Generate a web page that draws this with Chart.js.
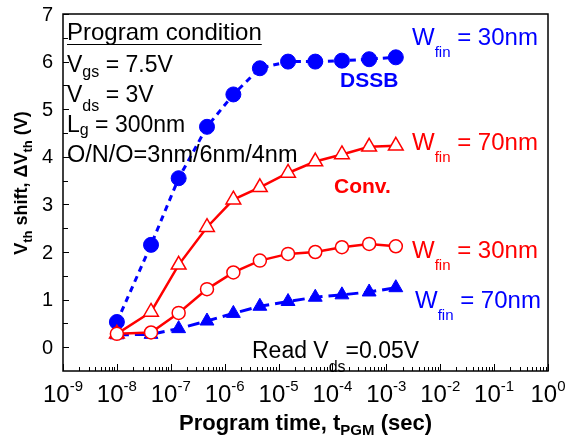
<!DOCTYPE html>
<html lang="en">
<head>
    <meta charset="UTF-8">
    <script src="https://cdn.jsdelivr.net/npm/chart.js"></script>
    <style>
        body { margin: 0; padding: 0; background: #fff; }
        #wrap { width: 565px; height: 436px; }
    </style>
</head>
<body>
    <div id="wrap"><canvas id="vth" width="565" height="436"></canvas></div>
    <script>
        // program time (sec) and Vth shift (V)
        const tPgm    = [1e-8, 4.3e-8, 1.4e-7, 4.7e-7, 1.45e-6, 4.5e-6, 1.5e-5, 4.8e-5, 1.5e-4, 4.8e-4, 1.5e-3];
        const dssb30  = [0.53, 2.15, 3.55, 4.63, 5.31, 5.86, 6.0, 6.0, 6.02, 6.05, 6.09];
        const dssb70  = [0.26, 0.27, 0.39, 0.55, 0.71, 0.86, 0.96, 1.05, 1.10, 1.16, 1.25];
        const conv70  = [0.28, 0.74, 1.73, 2.52, 3.10, 3.36, 3.66, 3.90, 4.05, 4.21, 4.23];
        const conv30  = [0.28, 0.31, 0.72, 1.22, 1.57, 1.82, 1.96, 2.00, 2.10, 2.17, 2.12];
        const xExps   = [-9, -8, -7, -6, -5, -4, -3, -2, -1, 0];
        const yLabels = [0, 1, 2, 3, 4, 5, 6, 7];

        const FONT = '"Liberation Sans", Arial, sans-serif';
        const RED = '#ff0000';
        const BLUE = '#0000ff';

        const pts = arr => arr.map((v, i) => ({ x: tPgm[i], y: v }));

        // draws text pieces: [text, size, dy] one after another
        function rich(ctx, x, y, parts, color, bold, align) {
            const w = parts.reduce((s, p) => {
                ctx.font = (bold ? 'bold ' : '') + p[1] + 'px ' + FONT;
                return s + ctx.measureText(p[0]).width;
            }, 0);
            let cx = align === 'center' ? x - w / 2 : x;
            ctx.fillStyle = color;
            ctx.textAlign = 'left';
            ctx.textBaseline = 'alphabetic';
            parts.forEach(p => {
                ctx.font = (bold ? 'bold ' : '') + p[1] + 'px ' + FONT;
                ctx.fillText(p[0], cx, y + (p[2] || 0));
                cx += ctx.measureText(p[0]).width;
            });
            return w;
        }

        const deco = {
            id: 'deco',
            afterDraw(chart) {
                const { ctx, chartArea: a, scales: { x, y } } = chart;
                ctx.save();
                ctx.strokeStyle = '#000';
                ctx.lineWidth = 1.5;
                ctx.strokeRect(a.left, a.top, a.right - a.left, a.bottom - a.top);

                // x ticks (inward) and labels
                ctx.lineWidth = 1;
                ctx.beginPath();
                xExps.forEach(e => {
                    for (let m = 1; m <= 9; m++) {
                        const v = m * Math.pow(10, e);
                        if (v > 1) break;
                        const px = Math.round(x.getPixelForValue(v)) + 0.5;
                        ctx.moveTo(px, a.bottom);
                        ctx.lineTo(px, a.bottom - (m === 1 ? 7 : 4));
                    }
                });
                // y ticks every 0.5
                for (let v = 0; v <= 7; v += 0.5) {
                    const py = Math.round(y.getPixelForValue(v)) + 0.5;
                    ctx.moveTo(a.left, py);
                    ctx.lineTo(a.left + (v % 1 === 0 ? 6 : 5), py);
                }
                ctx.stroke();

                xExps.forEach(e => {
                    const px = x.getPixelForValue(Math.pow(10, e));
                    rich(ctx, px, 402, [['10', 24], [String(e), 15, -11]], '#000', false, 'center');
                });
                ctx.font = '20px ' + FONT;
                ctx.fillStyle = '#000';
                ctx.textAlign = 'right';
                ctx.textBaseline = 'middle';
                yLabels.forEach(v => ctx.fillText(String(v), 53, y.getPixelForValue(v) + 1));

                // axis titles
                rich(ctx, (a.left + a.right) / 2, 430,
                    [['Program time, t', 22], ['PGM', 15, 5], [' (sec)', 22]], '#000', true, 'center');
                ctx.save();
                ctx.translate(27, 183);
                ctx.rotate(-Math.PI / 2);
                rich(ctx, 0, 0, [['V', 18], ['th', 13, 5], [' shift, ΔV', 18], ['th', 13, 5], [' (V)', 18]],
                    '#000', true, 'center');
                ctx.restore();

                // program condition block
                const w = rich(ctx, 67, 40, [['Program condition', 24]], '#000', false);
                ctx.beginPath();
                ctx.moveTo(67, 44.5);
                ctx.lineTo(67 + w, 44.5);
                ctx.stroke();
                rich(ctx, 67, 72, [['V', 23], ['gs', 16, 5], [' = 7.5V', 23]], '#000', false);
                rich(ctx, 67, 102, [['V', 23], ['ds', 16, 9], [' = 3V', 23]], '#000', false);
                rich(ctx, 67, 132, [['L', 23], ['g', 16, 3], [' = 300nm', 23]], '#000', false);
                rich(ctx, 67, 162, [['O/N/O=3nm/6nm/4nm', 23.5]], '#000', false);

                rich(ctx, 340, 87, [['DSSB', 21]], BLUE, true);
                rich(ctx, 334, 193, [['Conv.', 21]], RED, true);

                rich(ctx, 412, 45, [['W', 24], ['fin', 15, 12], [' = 30nm', 24]], BLUE, false);
                rich(ctx, 412, 150, [['W', 24], ['fin', 15, 12], [' = 70nm', 24]], RED, false);
                rich(ctx, 412, 258, [['W', 24], ['fin', 15, 12], [' = 30nm', 24]], RED, false);
                rich(ctx, 415, 308, [['W', 24], ['fin', 15, 12], [' = 70nm', 24]], BLUE, false);

                rich(ctx, 252, 358, [['Read V', 23], ['ds', 16, 14], ['=0.05V', 23]], '#000', false);
                ctx.restore();
            }
        };

        new Chart(document.getElementById('vth'), {
            type: 'line',
            data: {
                datasets: [
                    {
                        label: 'Conv. Wfin = 30nm',
                        data: pts(conv30),
                        borderColor: RED,
                        backgroundColor: '#fff',
                        borderWidth: 2.5,
                        pointStyle: 'circle',
                        pointRadius: 6.5,
                        pointBorderWidth: 1.5
                    },
                    {
                        label: 'Conv. Wfin = 70nm',
                        data: pts(conv70),
                        borderColor: RED,
                        backgroundColor: '#fff',
                        borderWidth: 2.5,
                        pointStyle: 'triangle',
                        pointRadius: 8.5,
                        pointBorderWidth: 1.5
                    },
                    {
                        label: 'DSSB Wfin = 30nm',
                        data: pts(dssb30),
                        borderColor: BLUE,
                        backgroundColor: BLUE,
                        borderWidth: 3,
                        borderDash: [6, 5],
                        pointStyle: 'circle',
                        pointRadius: 7.5,
                        pointBorderWidth: 1
                    },
                    {
                        label: 'DSSB Wfin = 70nm',
                        data: pts(dssb70),
                        borderColor: BLUE,
                        backgroundColor: BLUE,
                        borderWidth: 3,
                        borderDash: [12, 6],
                        pointStyle: 'triangle',
                        pointRadius: 8,
                        pointBorderWidth: 1
                    }
                ]
            },
            options: {
                responsive: false,
                animation: false,
                layout: { padding: { top: 14, right: 17, left: 0, bottom: 0 } },
                plugins: { legend: { display: false }, tooltip: { enabled: false } },
                scales: {
                    x: {
                        type: 'logarithmic',
                        min: 1e-9,
                        max: 1,
                        ticks: { display: false },
                        grid: { display: false },
                        border: { display: false },
                        afterFit: s => { s.height = 65; }
                    },
                    y: {
                        min: -0.5,
                        max: 7,
                        ticks: { display: false },
                        grid: { display: false },
                        border: { display: false },
                        afterFit: s => { s.width = 63; }
                    }
                }
            },
            plugins: [deco]
        });
    </script>
</body>
</html>
